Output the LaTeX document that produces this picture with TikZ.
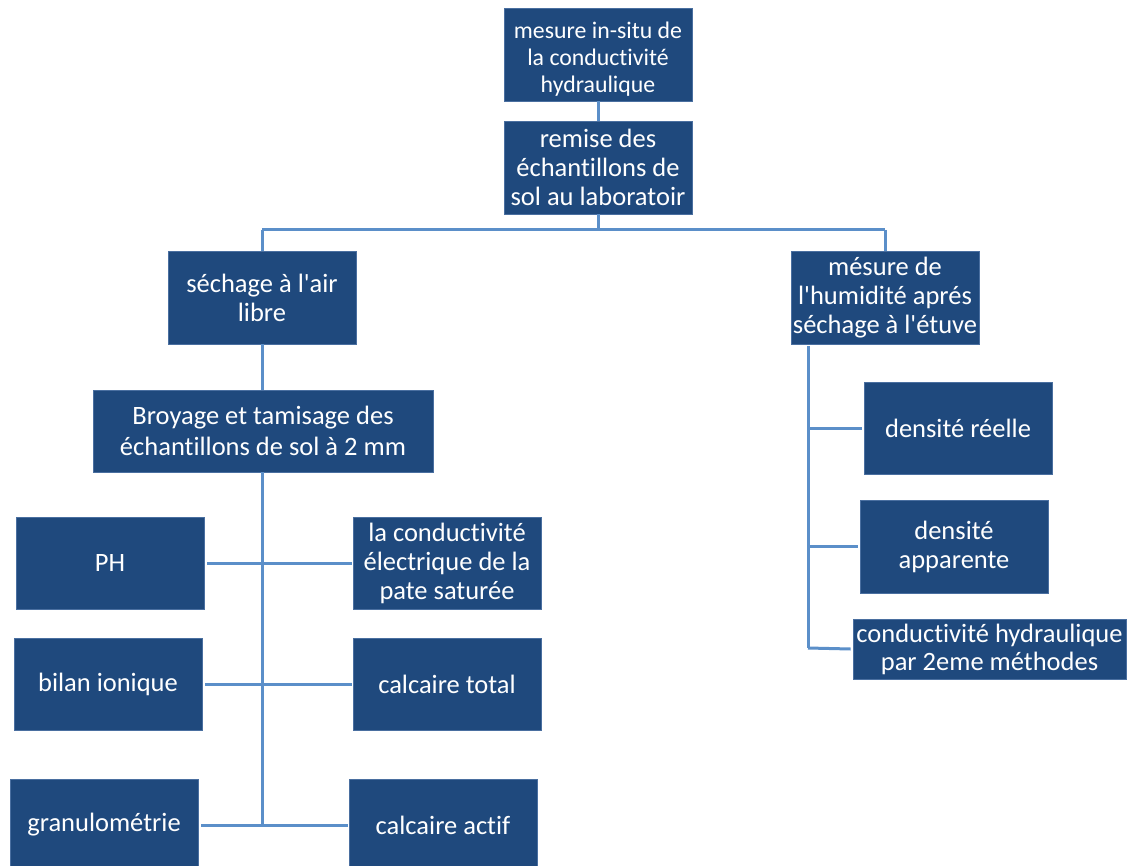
\documentclass[tikz,border=0pt]{standalone}
\usepackage{fontspec}
\setmainfont{Carlito}[Ligatures=NoCommon]
\definecolor{boxfill}{HTML}{1F497D}
\definecolor{boxline}{HTML}{4A6FA0}
\definecolor{conn}{HTML}{5B8FC9}
\newcommand{\ap}{\textquotesingle}
\begin{document}
\begin{tikzpicture}[x=1pt,y=-1pt,
  box/.style={fill=boxfill,draw=boxline,line width=0.8pt,text=white,align=center,inner sep=0pt,
    minimum width=188pt,minimum height=92pt,font=\fontsize{26.5}{29}\selectfont},
  conn/.style={draw=conn,line width=3pt}]
\useasboundingbox (0,0) rectangle (1131,866);
\node[box,minimum height=93pt,font=\fontsize{23.8}{27.3}\selectfont] (n1) at (598,54.5) {\rule{0pt}{26pt}mesure in-situ de\\la conductivité\\hydraulique};
\node[box,minimum height=93pt] (n2) at (598,167.5) {remise des\\échantillons de\\sol au laboratoir};
\node[box,minimum height=93pt] (n3) at (262,297.5) {séchage à l\ap air\\libre};
\node[box,minimum height=93pt] (n4) at (885,297.5) {mésure de\\l\ap humidité aprés\\séchage à l\ap étuve};
\node[box,minimum width=340pt,minimum height=82pt,font=\fontsize{26.5}{31}\selectfont] (n5) at (263,431) {Broyage et tamisage des\\échantillons de sol à 2 mm};
\node[box] (n6) at (958,428) {densité réelle};
\node[box,minimum height=93pt] (n7) at (954,546.5) {densité\\apparente};
\node[box,minimum width=273pt,minimum height=60pt,font=\fontsize{26.5}{28}\selectfont] (n8) at (989.5,649) {conductivité hydraulique\\par 2eme méthodes};
\node[box] (n9) at (110,563) {PH};
\node[box] (n10) at (447,563) {la conductivité\\électrique de la\\pate saturée};
\node[box] (n11) at (108,684) {bilan ionique};
\node[box] (n12) at (447,684) {calcaire total};
\node[box] (n13) at (104,825) {granulométrie};
\node[box] (n14) at (443,825) {calcaire actif};
% connectors
\coordinate (t1) at (598,230);
\coordinate (tl) at (262,230);
\coordinate (tr) at (885,230);
\coordinate (lb) at (262,825);
\coordinate (rt) at (808,346);
\coordinate (rb) at (808,648);
\draw[conn] (n1.south) -- (n2.north);
\draw[conn] (n2.south) -- (t1);
\draw[conn] (tl) -- (tr);
\draw[conn] (tl) -- (n3.north);
\draw[conn] (tr) -- (n4.north);
\draw[conn] (n3.south) -- (n3.south |- n5.north);
\draw[conn] (n5.south -| lb) -- (lb);
\draw[conn] ([xshift=3pt]n9.east) -- ([xshift=-1pt]n10.west);
\draw[conn] ([xshift=3pt]n11.east) -- ([xshift=-1pt]n12.west);
\draw[conn] ([xshift=3pt]n13.east) -- ([xshift=-1pt]n14.west);
\draw[conn] (rt) -- (rb);
\draw[conn] (rt |- n6.west) -- ([xshift=-2pt]n6.west);
\draw[conn] (rt |- n7.west) -- ([xshift=-2pt]n7.west);
\draw[conn] (rb) -- ([xshift=-2pt]n8.west);
\end{tikzpicture}
\end{document}
